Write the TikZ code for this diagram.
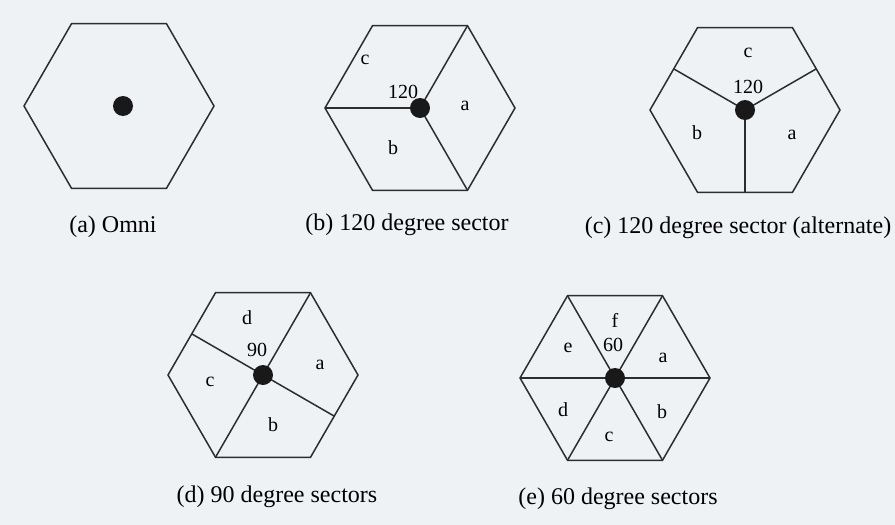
\documentclass[tikz,border=0pt]{standalone}
\usepackage{fontspec}
\setmainfont{Liberation Serif}
\usepackage{tikz}
\usetikzlibrary{shapes.geometric}
\definecolor{pagebg}{RGB}{238,242,244}
\definecolor{inkline}{RGB}{45,45,45}

\begin{document}
\begin{tikzpicture}[
  x=1pt, y=-1pt,
  hexcell/.style={draw=inkline, line width=1.5pt, regular polygon, regular polygon sides=6, minimum size=190pt, inner sep=0pt, outer sep=0pt},
  sector/.style={draw=inkline, line width=1.5pt},
  bs/.style={circle, fill=black!90, minimum size=20pt, inner sep=0pt},
  lbl/.style={font=\fontsize{20}{22}\selectfont, inner sep=0pt},
  figcap/.style={font=\fontsize{24}{28}\selectfont, inner sep=0pt}
]
\fill[pagebg] (0,0) rectangle (895,525);
\useasboundingbox (0,0) rectangle (895,525);

% (a) omni cell
\node[hexcell] (hexA) at (119,106) {};
\node[bs] (dotA) at (123,106) {};
\node[figcap] (capA) at (113,227) {(a) Omni};

% (b) three sectors, split at the corners
\node[hexcell] (hexB) at (420,108) {};
\draw[sector] (hexB.corner 3) -- (hexB.center);
\draw[sector] (hexB.corner 1) -- (hexB.center) -- (hexB.corner 5);
\node[bs] (dotB) at (hexB.center) {};
\node[lbl] (lblBc) at (365,60) {c};
\node[lbl] (lblBang) at (403,92) {120};
\node[lbl] (lblBa) at (465,106) {a};
\node[lbl] (lblBb) at (393,148) {b};
\node[figcap] (capB) at (407,225) {(b) 120 degree sector};

% (c) three sectors, split at the sides
\node[hexcell] (hexC) at (745,110) {};
\draw[sector] (hexC.side 2) -- (hexC.center) -- (hexC.side 6);
\draw[sector] (hexC.center) -- (hexC.side 4);
\node[bs] (dotC) at (hexC.center) {};
\node[lbl] (lblCc) at (748,53) {c};
\node[lbl] (lblCang) at (748,87) {120};
\node[lbl] (lblCb) at (697,133) {b};
\node[lbl] (lblCa) at (792,135) {a};
\node[figcap] (capC) at (738,228) {(c) 120 degree sector (alternate)};

% (d) four sectors
\node[hexcell] (hexD) at (263,375) {};
\draw[sector] (hexD.corner 1) -- (hexD.center) -- (hexD.corner 4);
\draw[sector] (hexD.side 2) -- (hexD.center) -- (hexD.side 5);
\node[bs] (dotD) at (hexD.center) {};
\node[lbl] (lblDd) at (247,318) {d};
\node[lbl] (lblDang) at (257,350) {90};
\node[lbl] (lblDa) at (320,365) {a};
\node[lbl] (lblDc) at (210,382) {c};
\node[lbl] (lblDb) at (273,425) {b};
\node[figcap] (capD) at (277,497) {(d) 90 degree sectors};

% (e) six sectors
\node[hexcell] (hexE) at (615,378) {};
\draw[sector] (hexE.corner 1) -- (hexE.corner 4);
\draw[sector] (hexE.corner 2) -- (hexE.corner 5);
\draw[sector] (hexE.corner 3) -- (hexE.corner 6);
\node[bs] (dotE) at (hexE.center) {};
\node[lbl] (lblEf) at (615,320) {f};
\node[lbl] (lblEang) at (613,345) {60};
\node[lbl] (lblEa) at (663,358) {a};
\node[lbl] (lblEb) at (662,412) {b};
\node[lbl] (lblEc) at (609,437) {c};
\node[lbl] (lblEd) at (563,410) {d};
\node[lbl] (lblEe) at (568,348) {e};
\node[figcap] (capE) at (618,499) {(e) 60 degree sectors};

\end{tikzpicture}
\end{document}
